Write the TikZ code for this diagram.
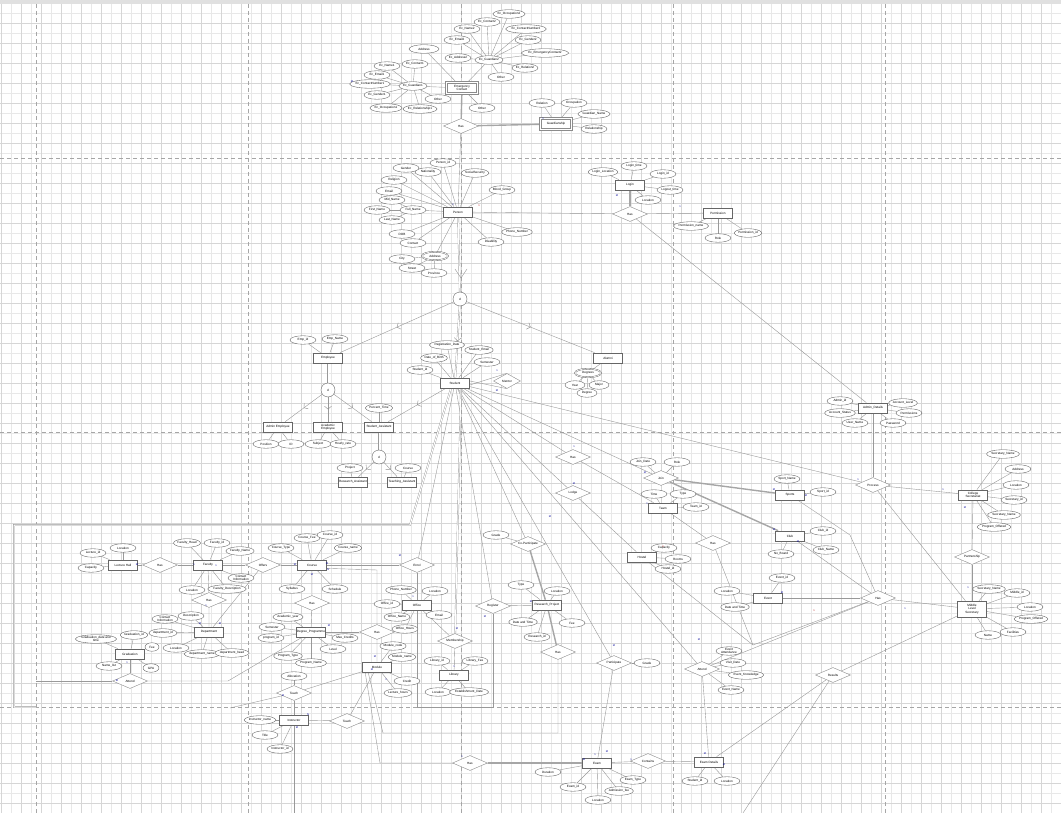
\documentclass[tikz,border=0pt]{standalone}
\usepackage{fontspec}
\setmainfont{Liberation Sans}
\usetikzlibrary{shapes.geometric,arrows.meta,decorations.markings}
\pgfdeclarelayer{bg}
\pgfsetlayers{bg,main}
\newcommand\ertxt{\fontsize{3.1}{3.5}\selectfont}
\tikzset{
 ent/.style={draw=black!60, line width=0.7pt, fill=white, minimum width=29pt, minimum height=10pt, inner sep=0.6pt, font=\ertxt, align=center},
 went/.style={draw=black!45, line width=0.8pt, double=white, double distance=1.1pt, fill=white, minimum width=31pt, minimum height=11pt, inner sep=0.6pt, font=\ertxt, align=center},
 att/.style={ellipse, draw=black!65, line width=0.35pt, fill=white, minimum width=26pt, minimum height=8.5pt, inner sep=0pt, font=\ertxt, align=center},
 matt/.style={att, double=white, double distance=0.7pt},
 rel/.style={diamond, aspect=2.3, draw=black!45, line width=0.4pt, fill=white, minimum width=35pt, minimum height=15pt, inner sep=0pt, font=\ertxt},
 srel/.style={rel, aspect=1.6, minimum width=27pt, minimum height=15pt},
 isa/.style={circle, draw=black!60, line width=0.4pt, fill=white, minimum size=14pt, inner sep=0pt, font=\ertxt},
 ln/.style={draw=black!40, line width=0.4pt},
 dl/.style={draw=black!40, line width=0.35pt, double=white, double distance=1pt},
 thk/.style={draw=black!35, line width=1.4pt},
 midv/.style={postaction={decorate}, decoration={markings, mark=at position 0.5 with {\arrow[black!45]{Straight Barb[length=3pt,width=7pt]}}}},
 cr/.style={font=\fontsize{2.6}{3}\selectfont, inner sep=0pt, text=red!70!black},
 cb/.style={font=\fontsize{2.6}{3}\selectfont, inner sep=0pt, text=blue!60!black},
 pgline/.style={draw=black!35, line width=0.8pt, dash pattern=on 4pt off 3pt}
}
\begin{document}
\begin{tikzpicture}[x=1pt,y=-1pt]
\useasboundingbox (0,0) rectangle (1061,813);
\begin{pgfonlayer}{bg}
\fill[white] (0,0) rectangle (1061,813);
\foreach \i in {0,10,...,1060} \draw[black!9,line width=0.3pt] (\i+0.7,0) -- (\i+0.7,813);
\foreach \j in {0,10,...,810} \draw[black!9,line width=0.3pt] (0,\j+3) -- (1061,\j+3);
\foreach \i in {0,20,...,1060} \draw[black!16,line width=0.4pt] (\i+0.7,0) -- (\i+0.7,813);
\foreach \j in {0,20,...,810} \draw[black!16,line width=0.4pt] (0,\j+3) -- (1061,\j+3);
\fill[black!12] (0,0) rectangle (1061,4);
\foreach \x in {36,248,461,673,885} \draw[pgline] (\x,4) -- (\x,813);
\foreach \y in {158,432,707} \draw[pgline] (0,\y) -- (1061,\y);
\end{pgfonlayer}

% ===== Emergency contact cluster =====
\node[went] (ec) at (462,88) {Emergency\\Contact};
\node[rel] (h1) at (461,126) {Has};
\node[went] (gd) at (556,124) {Guardianship};
\node[att] (gd1) at (542,103) {Relation};
\node[att] (gd2) at (574,103) {Occupation};
\node[att] (gd3) at (594,114) {Guardian\_Name};
\node[att] (gd4) at (594,129) {Relationship};
\node[att,minimum width=30pt] (eca) at (424,49) {Address};
\node[att] (eco) at (482,108) {Other};
\node[att] (g1) at (413,86) {Ec\_Guardian1};
\node[att] (g1a) at (415,64) {Ec\_Contact1};
\node[att] (g1b) at (387,66) {Ec\_Name1};
\node[att] (g1c) at (377,75) {Ec\_Email1};
\node[att] (g1d) at (370,84) {Ec\_ContactNumber1};
\node[att] (g1e) at (377,95) {Ec\_Gender1};
\node[att] (g1f) at (386,108) {Ec\_Occupation1};
\node[att] (g1g) at (420,109) {Ec\_Relationship1};
\node[att] (g1h) at (438,99) {Other};
\node[att] (g2) at (489,60) {Ec\_Guardian2};
\node[att] (g2a) at (509,14) {Ec\_Occupation2};
\node[att] (g2b) at (487,22) {Ec\_Contact2};
\node[att] (g2c) at (467,29) {Ec\_Name2};
\node[att] (g2d) at (526,29) {Ec\_ContactNumber2};
\node[att] (g2e) at (457,40) {Ec\_Email2};
\node[att] (g2f) at (528,40) {Ec\_Gender2};
\node[att] (g2g) at (545,53) {Ec\_EmergencyContact2};
\node[att] (g2h) at (458,58) {Ec\_Address2};
\node[att] (g2i) at (525,68) {Ec\_Relation2};
\node[att] (g2j) at (501,77) {Other};

% ===== Person =====
\node[ent] (per) at (458,212) {Person};
\node[att] (p1) at (443,163) {Person\_id};
\node[att] (p2) at (428,172) {Nationality};
\node[att] (p3) at (406,168) {Gender};
\node[att] (p4) at (394,180) {Religion};
\node[att] (p5) at (389,191) {Email};
\node[att] (fn) at (413,210) {Full\_Name};
\node[att] (fn1) at (377,210) {First\_Name};
\node[att] (fn2) at (392,200) {Mid\_Name};
\node[att] (fn3) at (392,220) {Last\_Name};
\node[att] (p6) at (402,234) {DOB};
\node[att] (p7) at (413,243) {Contact};
\node[matt] (adr) at (435,256) {Address};
\node[att] (ad1) at (402,259) {City};
\node[att] (ad2) at (412,268) {Street};
\node[att] (ad3) at (434,273) {Province};
\node[att] (p8) at (475,173) {SocialSecurity};
\node[att] (p9) at (502,190) {Blood\_Group};
\node[att] (p10) at (491,242) {Disability};
\node[att] (p11) at (517,232) {Phone\_Number};

% ===== Login / Permission =====
\node[ent] (lg) at (630,185) {Login};
\node[att] (lg1) at (603,172) {Login\_Location};
\node[att] (lg2) at (634,166) {Login\_time};
\node[att] (lg3) at (663,174) {Login\_id};
\node[att] (lg4) at (670,190) {Logout\_time};
\node[att] (lg5) at (648,200) {Location};
\node[rel] (h2) at (630,214) {Has};
\node[ent] (pm) at (718,213) {Permission};
\node[att] (pm1) at (691,226) {Permission\_name};
\node[att] (pm2) at (718,238) {Role};
\node[att] (pm3) at (748,233) {Permission\_id};

% ===== ISA hierarchy =====
\node[isa] (d1) at (460,299) {d};
\node[ent] (emp) at (328,358) {Employee};
\node[att] (e1) at (303,340) {Emp\_id};
\node[att] (e2) at (335,339) {Emp\_Name};
\node[ent] (stu) at (455,383) {Student};
\node[att] (s1) at (420,370) {Student\_id};
\node[att] (s2) at (434,358) {Date\_of\_Birth};
\node[att] (s3) at (447,345) {Registration\_Date};
\node[att] (s4) at (479,350) {Student\_Email};
\node[att] (s5) at (487,362) {Semester};
\node[srel] (mt) at (507,381) {Mentor};
\node[ent] (alu) at (608,358) {Alumni};
\node[matt] (deg) at (588,373) {Degrees};
\node[att,minimum width=20pt] (dg1) at (575,385) {Year};
\node[att,minimum width=20pt] (dg2) at (599,385) {Major};
\node[att,minimum width=20pt] (dg3) at (587,393) {Degree};
\node[isa] (d2) at (328,390) {d};
\node[ent] (ae) at (278,427) {Admin Employee};
\node[ent] (ace) at (328,427) {Academic\\Employee};
\node[ent] (sa) at (379,427) {Student\_Assistant};
\node[att] (ae1) at (266,444) {Position};
\node[att] (ae2) at (291,444) {ID};
\node[att] (ace1) at (318,444) {Subject};
\node[att] (ace2) at (343,444) {Hourly\_rate};
\node[att] (sa1) at (379,408) {Percent\_Time};
\node[isa] (d3) at (379,457) {d};
\node[ent] (ra) at (353,482) {Research\_Assistant};
\node[ent] (ta) at (402,482) {Teaching\_Assistant};
\node[att] (ra1) at (350,468) {Project};
\node[att] (ta1) at (408,468) {Course};

% ===== Admin / secretariat =====
\node[ent] (adm) at (873,408) {Admin\_Details};
\node[att] (a1) at (840,401) {Admin\_id};
\node[att] (a2) at (840,413) {Account\_Status};
\node[att] (a3) at (855,423) {User\_Name};
\node[att] (a4) at (903,403) {Account\_Level};
\node[att] (a5) at (909,413) {Permissions};
\node[att] (a6) at (893,423) {Password};
\node[rel] (proc) at (873,485) {Process};
\node[ent] (cs) at (973,495) {College\\Secretariat};
\node[att] (c1) at (1003,454) {Secretary\_Name};
\node[att] (c2) at (1018,469) {Address};
\node[att] (c3) at (1016,485) {Location};
\node[att] (c4) at (1014,500) {Secretary\_id};
\node[att] (c5) at (1004,515) {Secretary\_Name};
\node[att] (c6) at (994,527) {Program\_Offered};
\node[rel] (part) at (972,557) {Partnership};
\node[ent,minimum height=16pt] (mid) at (972,609) {Middle\\Level\\Secretary};
\node[att] (m1) at (989,589) {Secretary\_Name};
\node[att] (m2) at (1017,593) {Middle\_id};
\node[att] (m3) at (1030,607) {Location};
\node[att] (m4) at (1031,619) {Program\_Offered};
\node[att] (m5) at (1013,632) {Facilities};
\node[att] (m6) at (988,635) {Name};

% ===== Sports / clubs / events =====
\node[ent] (sp) at (790,495) {Sports};
\node[att] (sp1) at (787,479) {Sport\_Name};
\node[att] (sp2) at (823,492) {Sport\_id};
\node[ent] (cl) at (790,536) {Club};
\node[att] (cl1) at (823,531) {Club\_id};
\node[att] (cl2) at (826,550) {Club\_Name};
\node[att] (cl3) at (781,554) {No\_Board};
\node[ent] (ev) at (768,598) {Event};
\node[att] (ev1) at (782,578) {Event\_id};
\node[att] (ev2) at (727,591) {Location};
\node[att] (ev3) at (735,607) {Date and Time};
\node[rel] (hE) at (878,598) {Has};
\node[rel] (join) at (661,478) {Join};
\node[att] (j1) at (643,462) {Join\_Date};
\node[att] (j2) at (677,462) {Role};
\node[ent] (team) at (663,508) {Team};
\node[att] (t1) at (654,494) {Time};
\node[att] (t2) at (683,494) {Type};
\node[att] (t3) at (696,507) {Team\_id};
\node[rel] (hT) at (713,543) {Has};
\node[ent] (hos) at (642,557) {Hostel};
\node[att] (ho1) at (664,548) {Capacity};
\node[att] (ho2) at (678,559) {Rooms};
\node[att] (ho3) at (668,569) {Hostel\_id};
\node[rel] (hS) at (573,457) {Has};
\node[rel] (lod) at (573,493) {Lodge};
\coordinate (vx) at (753,645);
\coordinate (sb) at (850,535);

% ===== Research / exams =====
\node[rel] (cop) at (528,544) {Co-Participate};
\node[att] (cp1) at (496,535) {Grade};
\node[ent] (res) at (547,605) {Research\_Project};
\node[att] (r1) at (521,585) {Type};
\node[att] (r2) at (557,591) {Location};
\node[att] (r3) at (523,622) {Date and Time};
\node[att] (r4) at (537,637) {Research\_id};
\node[att] (r5) at (572,623) {Fee};
\node[rel] (reg) at (493,606) {Register};
\node[rel] (hR) at (558,652) {Has};
\node[rel] (pa) at (614,663) {Participate};
\node[att] (pa1) at (647,663) {Grade};
\node[rel] (atd) at (702,669) {Attend};
\node[att] (at1) at (729,651) {Event\\Attendance};
\node[att] (at2) at (733,663) {Visit\_Date};
\node[att] (at3) at (746,675) {Event\_Knowledge};
\node[att] (at4) at (731,690) {Event\_Name};
\node[ent] (ex) at (597,763) {Exam};
\node[att] (ex1) at (548,772) {Duration};
\node[att] (ex2) at (573,787) {Exam\_id};
\node[att] (ex3) at (598,800) {Location};
\node[att] (ex4) at (619,791) {Admission\_fee};
\node[att] (ex5) at (633,780) {Exam\_Type};
\node[rel] (con) at (648,761) {Contains};
\node[ent] (exd) at (709,762) {Exam Details};
\node[att] (xd1) at (695,781) {Student\_id};
\node[att] (xd2) at (727,781) {Location};
\node[rel] (hX) at (470,763) {Has};
\node[rel] (rsl) at (833,675) {Results};
\coordinate (rb) at (743,813);

% ===== Faculty / courses =====
\node[ent] (lh) at (123,565) {Lecture Hall};
\node[att] (lh1) at (123,548) {Location};
\node[att] (lh2) at (93,553) {Lecture\_id};
\node[att] (lh3) at (91,568) {Capacity};
\node[rel] (hLH) at (160,565) {Has};
\node[ent] (fac) at (208,565) {Faculty};
\node[att] (f1) at (187,543) {Faculty\_Head};
\node[att] (f2) at (217,543) {Faculty\_id};
\node[att] (f3) at (240,551) {Faculty\_Name};
\node[att] (f4) at (241,578) {Contact\\Information};
\node[att] (f5) at (227,589) {Faculty\_Description};
\node[att] (f6) at (192,590) {Location};
\node[rel] (hF) at (209,600) {Has};
\node[ent] (dep) at (209,632) {Department};
\node[att] (dp1) at (165,619) {Contact\\Information};
\node[att] (dp2) at (191,616) {Description};
\node[att] (dp3) at (163,633) {department\_id};
\node[att] (dp4) at (176,648) {Location};
\node[att] (dp5) at (202,654) {department\_name};
\node[att] (dp6) at (232,653) {department\_head};
\node[rel] (off) at (263,565) {Offers};
\node[ent] (grd) at (130,654) {Graduation};
\node[att] (gr1) at (96,639) {Graduation\_date and\\time};
\node[att] (gr2) at (134,635) {Graduation\_id};
\node[att,minimum width=14pt] (gr3) at (152,647) {Fee};
\node[att,minimum width=16pt] (gr4) at (151,668) {GPA};
\node[att] (gr5) at (109,666) {Name\_list};
\node[rel] (atg) at (130,681) {Attend};
\node[ent] (crs) at (312,565) {Course};
\node[att] (co1) at (281,548) {Course\_Type};
\node[att] (co2) at (307,538) {Course\_Fee};
\node[att] (co3) at (330,535) {Course\_id};
\node[att] (co4) at (348,548) {Course\_name};
\node[att] (co5) at (292,589) {Syllabus};
\node[att] (co6) at (335,589) {Schedule};
\node[rel] (hC) at (312,603) {Has};
\node[ent] (dpr) at (311,632) {Degree\_Programme};
\node[att] (dr1) at (288,617) {Academic\_year};
\node[att] (dr2) at (272,627) {Semester};
\node[att] (dr3) at (271,638) {program\_id};
\node[att] (dr4) at (288,656) {Program\_Type};
\node[att] (dr5) at (311,663) {Program\_Name};
\node[att] (dr6) at (345,638) {Max\_Credits};
\node[att] (dr7) at (333,649) {Level};
\node[rel] (hDM) at (377,632) {Has};
\node[ent] (mod) at (377,667) {Module};
\node[att] (mo1) at (393,646) {Module\_code};
\node[att] (mo2) at (402,657) {Module\_name};
\node[att] (mo3) at (407,681) {Credit};
\node[att] (mo4) at (398,693) {Lecture\_hours};
\node[rel] (enr) at (417,565) {Enrol};
\node[ent] (ofc) at (417,605) {Office};
\node[att] (of1) at (401,590) {Phone\_Number};
\node[att] (of2) at (435,591) {Location};
\node[att] (of3) at (387,604) {Office\_id};
\node[att] (of4) at (439,615) {Email};
\node[att] (of5) at (397,617) {Office\_Name};
\node[att] (of6) at (405,629) {Office\_Hours};
\node[rel] (mem) at (455,641) {Membership};
\node[ent] (lib) at (454,675) {Library};
\node[att] (li1) at (437,661) {Library\_id};
\node[att] (li2) at (475,661) {Library\_Fee};
\node[att] (li3) at (438,692) {Location};
\node[att] (li4) at (469,692) {Establishment\_Date};
\node[rel] (tch) at (294,693) {Teach};
\node[att] (tc1) at (294,676) {Allocation};
\node[ent] (ins) at (294,720) {Instructor};
\node[att] (in1) at (260,720) {Instructor\_name};
\node[att] (in2) at (265,735) {Title};
\node[att] (in3) at (280,749) {Instructor\_id};
\node[rel] (tch2) at (347,721) {Teach};

% ===== connectors =====
\begin{pgfonlayer}{bg}
% emergency
\draw[thk] (ec) -- (h1); \draw[thk] (h1) -- (gd);
\foreach \a in {gd1,gd2,gd3,gd4} \draw[ln] (gd) -- (\a);
\foreach \a in {eca,eco,g1,g2} \draw[ln] (ec) -- (\a);
\foreach \a in {g1a,g1b,g1c,g1d,g1e,g1f,g1g,g1h} \draw[ln] (g1) -- (\a);
\foreach \a in {g2a,g2b,g2c,g2d,g2e,g2f,g2g,g2h,g2i,g2j} \draw[ln] (g2) -- (\a);
\draw[ln] (h1) -- (per);
% person
\foreach \a in {p1,p2,p3,p4,p5,fn,p6,p7,adr,p8,p9,p10,p11} \draw[ln] (per) -- (\a);
\foreach \a in {fn1,fn2,fn3} \draw[ln] (fn) -- (\a);
\foreach \a in {ad1,ad2,ad3} \draw[ln] (adr) -- (\a);
\draw[dl] (per) -- (d1);
\draw[black!45,line width=0.4pt] (455,269) -- (461,278) -- (467,269);
% login
\foreach \a in {lg1,lg2,lg3,lg4,lg5} \draw[ln] (lg) -- (\a);
\draw[thk] (lg) -- (h2);
\draw[ln] (h2) -- (pm);
\draw[ln] (h2) -- (per);
\foreach \a in {pm1,pm2,pm3} \draw[ln] (pm) -- (\a);
\draw[ln] (h2) -- (adm);
% isa
\draw[ln,midv] (d1) -- (emp);
\draw[dl,midv] (d1) -- (stu);
\draw[ln,midv] (d1) -- (alu);
\foreach \a in {e1,e2} \draw[ln] (emp) -- (\a);
\draw[dl] (emp) -- (d2);
\draw[ln,midv] (d2) -- (ae);
\draw[ln,midv] (d2) -- (ace);
\draw[ln,midv] (d2) -- (sa);
\draw[ln,midv] (stu) -- (sa);
\draw[ln] (ae) -- (ae1); \draw[ln] (ae) -- (ae2);
\draw[ln] (ace) -- (ace1); \draw[ln] (ace) -- (ace2);
\draw[ln] (sa) -- (sa1);
\draw[dl] (sa) -- (d3);
\draw[ln,midv] (d3) -- (ra); \draw[ln,midv] (d3) -- (ta);
\draw[ln] (ra) -- (ra1); \draw[ln] (ta) -- (ta1);
\foreach \a in {s1,s2,s3,s4,s5} \draw[ln] (stu) -- (\a);
\draw[ln] ([yshift=-2pt]stu.east) -- (mt.north);
\draw[ln] ([yshift=2pt]stu.east) -- (mt.south);
\draw[ln] (alu) -- (deg);
\foreach \a in {dg1,dg2,dg3} \draw[ln] (deg) -- (\a);
% admin
\foreach \a in {a1,a2,a3,a4,a5,a6} \draw[ln] (adm) -- (\a);
\draw[ln] (adm) -- (proc);
\draw[ln] (proc) -- (cs);
\draw[ln] (proc) -- (mid);
\draw[ln] (stu) -- (proc);
\foreach \a in {c1,c2,c3,c4,c5,c6} \draw[ln] (cs) -- (\a);
\draw[ln] (cs) -- (part); \draw[ln] (part) -- (mid);
\foreach \a in {m1,m2,m3,m4,m5,m6} \draw[ln] (mid) -- (\a);
% sports
\draw[ln] (sp) -- (sp1); \draw[ln] (sp) -- (sp2);
\draw[ln] (cl) -- (cl1); \draw[ln] (cl) -- (cl2); \draw[ln] (cl) -- (cl3);
\draw[ln] (ev) -- (ev1); \draw[ln] (ev) -- (ev2); \draw[ln] (ev) -- (ev3);
\draw[thk] (join) -- (sp); \draw[thk] (join) -- (cl);
\draw[ln] (join) -- (j1); \draw[ln] (join) -- (j2);
\draw[ln] (stu) -- (join);
\draw[ln] (stu) -- (hS); \draw[ln] (hS) -- (team);
\foreach \a in {t1,t2,t3} \draw[ln] (team) -- (\a);
\draw[ln] (team) -- (hT);
\draw[ln] (hT) -- (vx);
\draw[ln] (hos) -- (vx) -- (hE);
\foreach \a in {ho1,ho2,ho3} \draw[ln] (hos) -- (\a);
\draw[ln] (stu) -- (lod); \draw[ln] (lod) -- (hos);
\draw[ln] (ev) -- (hE);
\draw[ln] (cl) -- (hE);
\draw[ln] (sp) -- (sb) -- (hE);
\draw[ln] (hE) -- (mid);
\draw[ln] (atd) -- (hE);
% research / exam
\draw[ln] (stu) -- (cop); \draw[ln] (cop) -- (cp1);
\draw[thk] (cop) -- (res); \draw[thk] (res) -- (hR);
\foreach \a in {r1,r2,r3,r4,r5} \draw[ln] (res) -- (\a);
\draw[ln] (stu) -- (reg); \draw[ln] (reg) -- (res);
\draw[ln] (stu) -- (pa); \draw[ln] (pa) -- (pa1); \draw[ln] (pa) -- (ex);
\draw[ln] (stu) -- (atd);
\foreach \a in {at1,at2,at3,at4} \draw[ln] (atd) -- (\a);
\draw[ln] (atd) -- (exd);
\foreach \a in {ex1,ex2,ex3,ex4,ex5} \draw[ln] (ex) -- (\a);
\draw[ln] (ex) -- (con); \draw[ln] (con) -- (exd);
\draw[ln] (exd) -- (xd1); \draw[ln] (exd) -- (xd2);
\draw[thk] (hX) -- (ex);
\draw[ln] (exd) -- (rsl); \draw[ln] (rb) -- (rsl); \draw[ln] (rsl) -- (mid);
% faculty
\foreach \a in {lh1,lh2,lh3} \draw[ln] (lh) -- (\a);
\draw[ln] (lh) -- (hLH) -- (fac);
\foreach \a in {f1,f2,f3,f4,f5,f6} \draw[ln] (fac) -- (\a);
\draw[ln] (fac) -- (off) -- (crs);
\draw[ln] (fac) -- (hF) -- (dep);
\foreach \a in {dp1,dp2,dp3,dp4,dp5,dp6} \draw[ln] (dep) -- (\a);
\draw[ln] (dep) -- (off);
\foreach \a in {gr1,gr2,gr3,gr4,gr5} \draw[ln] (grd) -- (\a);
\draw[ln] (grd) -- (atg);
\draw[ln] (atg) -- (36,681);
\draw[ln] (atg) -- (228,681) -- (dpr);
\foreach \a in {co1,co2,co3,co4,co5,co6} \draw[ln] (crs) -- (\a);
\draw[ln] (crs) -- (hC) -- (dpr);
\foreach \a in {dr1,dr2,dr3,dr4,dr5,dr6,dr7} \draw[ln] (dpr) -- (\a);
\draw[ln] (dpr) -- (hDM);
\draw[ln] (crs.south east) ++(0,-2) -- (377,570) -- (hDM) -- (mod);
\foreach \a in {mo1,mo2,mo3,mo4} \draw[ln] (mod) -- (\a);
\draw[ln] (crs) -- (enr); \draw[ln] (stu) -- (enr); \draw[ln] (enr) -- (ofc);
\foreach \a in {of1,of2,of3,of4,of5,of6} \draw[ln] (ofc) -- (\a);
\draw[ln] (ofc) -- (mem); \draw[ln] (mem) -- (lib);
\draw[dl] ([xshift=6pt]stu.south) -- (mem);
\foreach \a in {li1,li2,li3,li4} \draw[ln] (lib) -- (\a);
\draw[ln] (ofc) -- (417,707) -- (493,707) -- (reg);
\draw[ln] (tch) -- (tc1); \draw[ln] (tch) -- (mod); \draw[ln] (tch) -- (ins);
\draw[ln] (tch) -- (230,708);
\draw[ln] (ins) -- (in1); \draw[ln] (ins) -- (in2); \draw[ln] (ins) -- (in3);
\draw[ln] (ins) -- (tch2); \draw[ln] (tch2) -- (mod);
\draw[ln] (ins) -- (294,813);
\draw[ln] ([xshift=3pt]mod.south west) -- (380,763) -- (hX);
\draw[ln] ([xshift=6pt]mod.south west) -- (383,733) -- (558,733) -- (hR);
% long double line from Student to the left
\draw[dl] ([xshift=-4pt]stu.south) -- (410,525) -- (14,525) -- (14,707) -- (36,707);
\end{pgfonlayer}

% cardinalities
\node[cb] at (352,82) {M};
\node[cb] at (543,119) {1};
\node[cb] at (453,205) {1};
\node[cr] at (479,206) {1};
\node[cb] at (617,196) {M};
\node[cb] at (680,207) {1};
\node[cb] at (858,480) {1};
\node[cb] at (943,490) {1};
\node[cb] at (965,508) {M};
\node[cb] at (968,588) {1};
\node[cb] at (645,473) {M};
\node[cb] at (647,504) {1};
\node[cb] at (774,490) {M};
\node[cb] at (806,496) {M};
\node[cb] at (774,530) {M};
\node[cb] at (798,542) {M};
\node[cb] at (782,593) {M};
\node[cr] at (814,611) {1};
\node[cb] at (905,609) {1};
\node[cr] at (663,547) {1};
\node[cb] at (574,447) {1};
\node[cb] at (574,484) {M};
\node[cb] at (550,517) {M};
\node[cb] at (485,617) {M};
\node[cb] at (531,602) {M};
\node[cb] at (614,646) {M};
\node[cb] at (699,640) {M};
\node[cb] at (595,755) {1};
\node[cb] at (607,752) {M};
\node[cb] at (584,760) {M};
\node[cb] at (705,754) {M};
\node[cb] at (724,765) {M};
\node[cb] at (631,760) {1};
\node[cb] at (462,757) {1};
\node[cb] at (216,566) {1};
\node[cb] at (137,565) {M};
\node[cb] at (194,565) {1};
\node[cb] at (295,565) {M};
\node[cb] at (327,564) {M};
\node[cb] at (328,570) {N};
\node[cb] at (312,575) {M};
\node[cb] at (329,626) {M};
\node[cb] at (375,657) {M};
\node[cb] at (372,670) {M};
\node[cb] at (386,680) {1};
\node[cb] at (400,556) {M};
\node[cb] at (413,597) {1};
\node[cb] at (457,629) {M};
\node[cb] at (454,667) {1};
\node[cb] at (206,606) {1};
\node[cb] at (200,624) {M};
\node[cb] at (220,624) {M};
\node[cb] at (117,681) {M};
\node[cb] at (127,663) {1};
\node[cb] at (283,696) {M};
\node[cb] at (308,715) {N};
\node[cb] at (297,728) {M};
\node[cb] at (497,371) {1};
\node[cb] at (497,391) {M};
\end{tikzpicture}
\end{document}
